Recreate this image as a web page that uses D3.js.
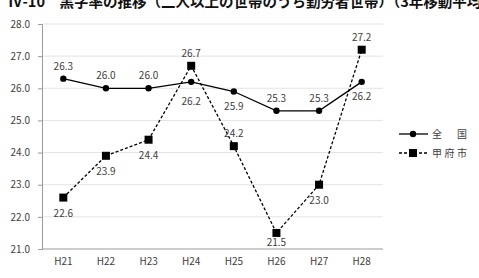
<!DOCTYPE html>
<html><head><meta charset="utf-8">
<script src="https://cdn.jsdelivr.net/npm/d3@7"></script>
<style>body{margin:0;background:#fff}svg{display:block}</style>
</head><body>
<svg id="c" width="479" height="278"></svg>
<script>
const title = "Ⅳ-10　黒字率の推移（二人以上の世帯のうち勤労者世帯）（3年移動平均）";
const categories = ["H21","H22","H23","H24","H25","H26","H27","H28"];
const national = [26.3,26.0,26.0,26.2,25.9,25.3,25.3,26.2];
const kofu = [22.6,23.9,24.4,26.7,24.2,21.5,23.0,27.2];
const nationalLabelPos = ["a","a","a","b","b","a","a","b"];
const kofuLabelPos = ["b","b","b","a","a","b","b","a"];
const yTicks = [21,22,23,24,25,26,27,28];
const seriesNames = ["全国","甲府市"];

const svg = d3.select("#c");
const font = "'Noto Sans CJK JP','Noto Sans',sans-serif";
const textColor = "#404040";
const x = d3.scaleBand().domain(categories).range([42,383]);
const y = d3.scaleLinear().domain([21,28]).range([249,24]);
const cx = d => x(d) + x.bandwidth()/2;

svg.append("text").attr("x",8).attr("y",7).attr("font-family",font)
  .attr("font-size",14.5).attr("font-weight","bold").attr("fill","#111").text(title);

// grid
svg.append("g").selectAll("line").data(yTicks.slice(1)).join("line")
  .attr("x1",42).attr("x2",383).attr("y1",d=>y(d)).attr("y2",d=>y(d))
  .attr("stroke","#e4e4e4").attr("stroke-width",1);

const ya = svg.append("g").attr("transform","translate(42,0)")
  .call(d3.axisLeft(y).tickValues(yTicks).tickFormat(d3.format(".1f")).tickSize(4).tickPadding(8));
ya.select(".domain").attr("stroke","#9a9a9a");
ya.selectAll(".tick line").attr("stroke","#9a9a9a");
ya.selectAll("text").attr("font-family",font).attr("font-size",10).attr("fill",textColor);

const xa = svg.append("g").attr("transform","translate(0,249)")
  .call(d3.axisBottom(x).tickSize(0).tickPadding(9));
xa.select(".domain").attr("stroke","#9a9a9a").attr("d","M42,0H383");
xa.selectAll("text").attr("font-family",font).attr("font-size",10).attr("fill",textColor);

const line = d3.line().x((d,i)=>cx(categories[i])).y(d=>y(d));

svg.append("path").datum(national).attr("d",line).attr("fill","none")
  .attr("stroke","#000").attr("stroke-width",1.3);
svg.append("path").datum(kofu).attr("d",line).attr("fill","none")
  .attr("stroke","#000").attr("stroke-width",1.3).attr("stroke-dasharray","3,2");

svg.append("g").selectAll("path").data(national).join("path")
  .attr("transform",(d,i)=>`translate(${cx(categories[i])},${y(d)})`)
  .attr("d",d3.symbol(d3.symbolCircle,32)()).attr("fill","#000");
svg.append("g").selectAll("rect").data(kofu).join("rect")
  .attr("x",(d,i)=>cx(categories[i])-4).attr("y",d=>y(d)-4)
  .attr("width",8).attr("height",8).attr("fill","#000");

function labels(data,pos,belowOffset){
  svg.append("g").selectAll("text").data(data).join("text")
    .attr("x",(d,i)=>cx(categories[i]))
    .attr("y",(d,i)=>y(d)+(pos[i]==="a"?-9:belowOffset(d,i)))
    .attr("text-anchor","middle").attr("font-family",font).attr("font-size",10)
    .attr("fill",textColor).text(d=>d.toFixed(1));
}
labels(national,nationalLabelPos,(d,i)=> i===3?23:18);
labels(kofu,kofuLabelPos,(d,i)=> Math.min(19, y.range()[0]-3-y(d)));

// legend
const lg = svg.append("g");
[0,1].forEach(k=>{
  const ly = k===0?134:153;
  lg.append("line").attr("x1",399).attr("x2",428).attr("y1",ly).attr("y2",ly)
    .attr("stroke","#000").attr("stroke-width",1.3).attr("stroke-dasharray",k?"3,2":null);
  if(k===0) lg.append("path").attr("transform",`translate(413,${ly})`).attr("d",d3.symbol(d3.symbolCircle,32)()).attr("fill","#000");
  else lg.append("rect").attr("x",409).attr("y",ly-4).attr("width",8).attr("height",8).attr("fill","#000");
  lg.append("text").attr("x",432).attr("y",ly+4).attr("font-family",font).attr("font-size",10)
    .attr("textLength",35).attr("lengthAdjust","spacing")
    .attr("fill",textColor).text(seriesNames[k]);
});
</script>
</body></html>
